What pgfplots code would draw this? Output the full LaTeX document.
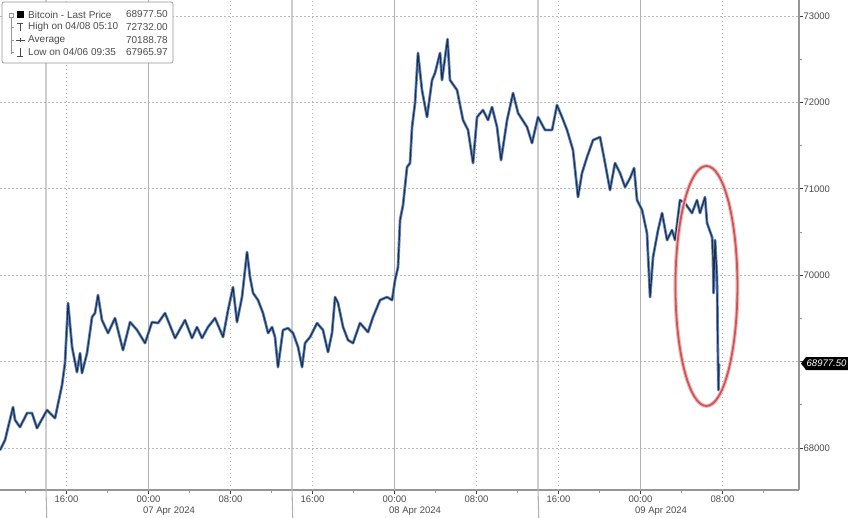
\documentclass[border=0pt]{standalone}
\usepackage{fontspec}
\setmainfont{Liberation Sans}
\usepackage{pgfplots}
\pgfplotsset{compat=1.18}
\usepackage{pgfplotstable}
\definecolor{axisgray}{RGB}{150,150,150}
\definecolor{gridgray}{RGB}{185,185,185}
\definecolor{solidgray}{RGB}{178,178,178}
\definecolor{labelgray}{RGB}{75,75,75}
\definecolor{ticksdark}{RGB}{60,60,60}
\definecolor{lineblue}{RGB}{100,140,195}
\definecolor{linedark}{RGB}{30,45,75}
\definecolor{ellred}{RGB}{205,85,85}
\definecolor{ellglow}{RGB}{240,190,190}

\pgfplotstableread{
h p
-14.49 67975
-14.00 68092
-13.22 68474
-13.02 68324
-12.54 68243
-11.85 68405
-11.37 68405
-10.88 68231
-9.90 68440
-9.12 68347
-8.44 68729
-8.15 68984
-7.85 69678
-7.46 69169
-6.98 68879
-6.68 69099
-6.49 68868
-6.00 69099
-5.51 69516
-5.22 69562
-4.93 69771
-4.54 69481
-3.95 69331
-3.27 69504
-2.49 69134
-1.80 69458
-1.12 69366
-0.34 69215
0.34 69458
0.93 69447
1.61 69562
2.59 69273
3.56 69481
4.24 69273
4.73 69400
5.22 69273
5.80 69400
6.49 69504
7.27 69285
7.76 69597
8.24 69863
8.63 69458
9.12 69748
9.61 70268
9.90 69979
10.20 69794
10.68 69713
11.17 69562
11.66 69331
12.05 69400
12.34 69285
12.63 68937
13.12 69366
13.61 69389
14.10 69331
14.59 69169
14.98 68937
15.27 69215
15.76 69285
16.44 69447
17.02 69366
17.51 69111
17.90 69331
18.20 69748
18.49 69678
18.98 69400
19.46 69250
19.95 69215
20.63 69447
21.41 69342
21.90 69516
22.59 69713
23.27 69748
23.76 69713
24.05 69944
24.34 70095
24.54 70639
24.83 70812
25.22 71252
25.51 71298
25.71 71715
26.00 71993
26.29 72572
26.68 72143
27.17 71831
27.66 72259
27.95 72340
28.44 72572
28.63 72259
29.17 72732
29.41 72259
30.10 72143
30.68 71796
31.17 71681
31.66 71298
32.05 71831
32.63 71912
33.12 71796
33.51 71947
34.00 71715
34.39 71333
34.98 71796
35.56 72109
36.05 71877
36.93 71715
37.41 71530
38.00 71831
38.68 71681
39.37 71681
39.85 71970
40.34 71831
40.83 71681
41.41 71449
41.90 70905
42.29 71183
42.78 71368
43.37 71565
44.05 71599
44.54 71298
45.02 70986
45.51 71298
46.00 71183
46.49 71021
46.98 71125
47.37 71241
47.66 70870
48.15 70755
48.63 70488
48.93 69748
49.22 70210
49.71 70523
50.10 70720
50.59 70407
51.07 70523
51.37 70407
51.85 70870
52.34 70835
53.02 70720
53.51 70870
53.80 70720
54.29 70905
54.49 70604
54.98 70442
55.07 70210
55.12 69794
55.27 70407
55.46 69979
55.56 68984
55.60 68671
55.65 68977.5
}\btc

\begin{document}
\begin{tikzpicture}[x=1pt,y=1pt]
\begin{axis}[
  at={(0pt,27pt)}, anchor=south west,
  scale only axis, width=799pt, height=490pt,
  xmin=-14.49, xmax=63.46, ymin=67514, ymax=73185,
  axis x line*=bottom, axis y line*=right,
  axis line style={draw=axisgray, line width=1.4pt, -},
  xtick={-8,0,8,16,24,32,40,48,56},
  xticklabels={16:00,00:00,08:00,16:00,00:00,08:00,16:00,00:00,08:00},
  minor xtick={-12,-4,4,12,20,28,36,44,52,60},
  ytick={68000,69000,70000,71000,72000,73000},
  yticklabels={68000,,70000,71000,72000,73000},
  scaled y ticks=false, scaled x ticks=false,
  minor ytick={67500,68500,69500,70500,71500,72500},
  tick align=outside,
  major tick length=4pt, minor tick length=2.5pt,
  every tick/.style={draw=ticksdark, line width=1pt},
  minor tick style={draw=axisgray, line width=0.8pt},
  tick label style={font=\fontsize{9.5}{11}\selectfont, text=labelgray},
  yticklabel style={anchor=west, xshift=-3pt},
  xticklabel style={anchor=north, yshift=2pt},
  clip=false,
]
% horizontal dotted grid
\pgfplotsinvokeforeach{68000,69000,70000,71000,72000,73000}{
  \draw[gridgray, line width=0.8pt, dash pattern=on 1.5pt off 2.5pt]
    (axis cs:-14.49,#1) -- (axis cs:63.46,#1);
}
% vertical dotted grid
\pgfplotsinvokeforeach{-8,8,16,32,40,56}{
  \draw[gridgray, line width=0.8pt, dash pattern=on 1.5pt off 2.5pt]
    (axis cs:#1,67514) -- (axis cs:#1,73185);
}
% solid 00:00 lines
\pgfplotsinvokeforeach{0,24,48}{
  \draw[solidgray, line width=1.1pt] (axis cs:#1,67514) -- (axis cs:#1,73185);
}
% date dividers
\pgfplotsinvokeforeach{-10,14,38}{
  \draw[solidgray, line width=1.1pt] (axis cs:#1,73185) -- (axis cs:#1,67514) -- ++(0,-27pt);
}
\addplot[lineblue, line width=2.8pt, line join=round] table[x=h,y=p] {\btc};
\addplot[linedark, line width=1.1pt, line join=round] table[x=h,y=p] {\btc};
% ellipse annotation
\draw[ellglow, line width=4pt] (axis cs:54.43,69876) ellipse [x radius=31pt, y radius=120pt];
\draw[ellred, line width=1.8pt] (axis cs:54.43,69876) ellipse [x radius=31pt, y radius=120pt];
% date labels
\node[font=\fontsize{9.5}{11}\selectfont, text=labelgray] at (axis cs:2,67514) [yshift=-21pt] {07 Apr 2024};
\node[font=\fontsize{9.5}{11}\selectfont, text=labelgray] at (axis cs:26,67514) [yshift=-21pt] {08 Apr 2024};
\node[font=\fontsize{9.5}{11}\selectfont, text=labelgray] at (axis cs:50,67514) [yshift=-21pt] {09 Apr 2024};
\end{axis}
% last price box
\fill[black] (801,153.5) -- (806,160) -- (848,160) -- (848,147) -- (806,147) -- cycle;
\node[anchor=west, text=white, font=\fontsize{9.5}{11}\selectfont\itshape, inner sep=0pt] at (806.5,153.5) {68977.50};
% legend
\draw[draw=axisgray, fill=white, rounded corners=2pt, line width=0.8pt] (2,515) rectangle (173,454);
\draw[axisgray, line width=0.6pt] (11,500) -- (11,463);
\draw[axisgray, line width=0.6pt] (9,500) rectangle (13,504);
\draw[axisgray, line width=0.6pt] (11,490) -- (14,490) (11,477) -- (14,477) (11,465) -- (14,465);
\fill[black] (17,499) rectangle (24,506);
\draw[labelgray, line width=0.7pt] (17,494) -- (23,494) (20,494) -- (20,486);
\draw[labelgray, line width=0.7pt] (16,477) -- (25,477) (20,475) -- (20,479);
\draw[labelgray, line width=0.7pt] (20,469) -- (20,461) (17,461) -- (23,461);
\begin{scope}[every node/.style={font=\fontsize{10}{12}\selectfont, text=labelgray, inner sep=0pt}]
\node[anchor=west] at (28,502.5) {Bitcoin - Last Price};
\node[anchor=east] at (168,502.5) {68977.50};
\node[anchor=west] at (28,490) {High on 04/08 05:10};
\node[anchor=east] at (168,490) {72732.00};
\node[anchor=west] at (28,477) {Average};
\node[anchor=east] at (168,477) {70188.78};
\node[anchor=west] at (28,465) {Low on 04/06 09:35};
\node[anchor=east] at (168,465) {67965.97};
\end{scope}
\pgfresetboundingbox
\useasboundingbox (0,0) rectangle (848,517);
\end{tikzpicture}
\end{document}
